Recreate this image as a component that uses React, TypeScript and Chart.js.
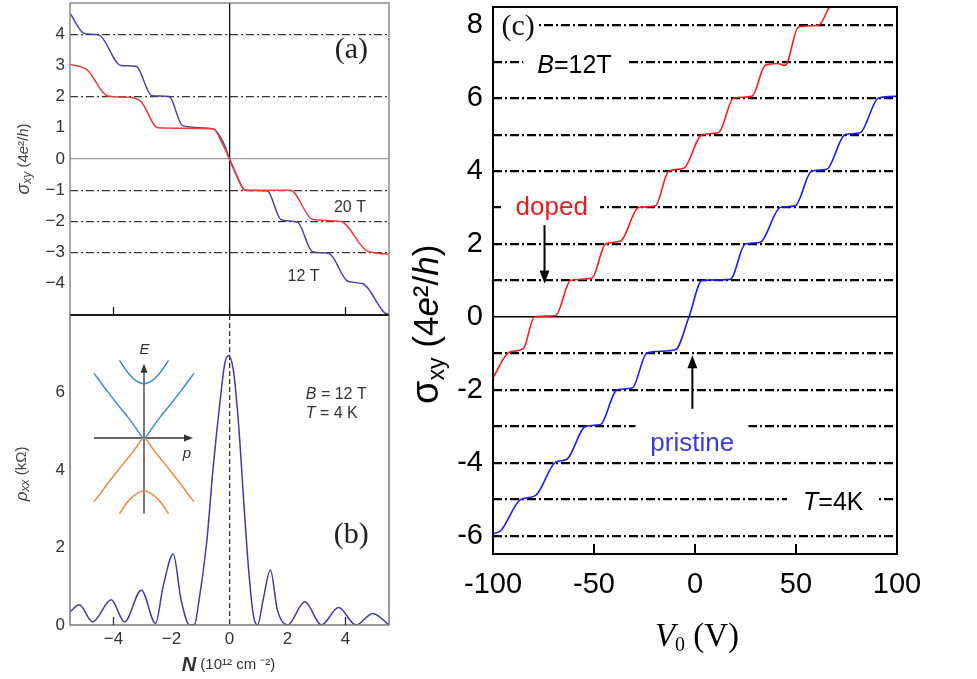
import React, { useEffect, useRef } from "react";
import { Chart, registerables } from "chart.js";

Chart.register(...registerables);

const SANS = "'Liberation Sans', Arial, Helvetica, sans-serif";
const SERIF = "'Liberation Serif', 'Times New Roman', serif";
Chart.defaults.font.family = SANS;

// ---------------- Panel (a): sigma_xy vs N ----------------
const nA12 = [-5.5, -5.0, -4.5, -3.75, -3.22, -2.68, -2.08, -1.62, -0.56, -0.2, 0, 0.25, 0.55, 1.3, 1.78, 2.34, 2.86, 3.43, 4.08, 4.6, 5.35, 5.5];
const sigmaA12 = [4.67, 4.02, 3.97, 3.0, 2.97, 2.03, 2.0, 1.07, 0.96, 0.5, 0.0, -0.55, -1.0, -1.02, -1.95, -2.02, -2.97, -3.03, -3.92, -4.0, -4.93, -4.98];
const nA20 = [-5.5, -4.9, -4.2, -3.5, -3.05, -2.47, -0.56, -0.25, 0, 0.25, 0.52, 2.1, 2.86, 3.84, 4.75, 5.5];
const sigmaA20 = [3.04, 2.85, 2.02, 1.98, 1.84, 1.0, 0.97, 0.5, 0.0, -0.52, -1.0, -1.0, -1.93, -2.0, -2.95, -3.05];
const aYTicks = [-4, -3, -2, -1, 0, 1, 2, 3, 4];
const aDashLevels = [4, 2, -1, -2, -3];
const aSolidLevels = [0];
const aVerticalLines = [0];
const aInnerXTicks = [-4, 0, 4];

// ---------------- Panel (b): rho_xx vs N ----------------
const nB = [-5.5, -5.18, -4.72, -4.08, -3.62, -3.04, -2.55, -2.29, -1.94, -1.67, -1.37, -1.2, -1.1, -0.79, -0.56, -0.32, -0.16, -0.03, 0.13, 0.31, 0.48, 0.66, 0.83, 0.97, 1.16, 1.41, 1.65, 2.0, 2.6, 3.17, 3.76, 4.36, 4.94, 5.5];
const rhoB = [0.34, 0.52, 0.08, 0.65, 0.08, 0.9, 0.04, 0.99, 1.83, 0.65, 0.0, 0.02, 0.39, 2.11, 4.09, 5.81, 6.76, 6.95, 6.59, 5.21, 3.32, 1.42, 0.22, 0.0, 0.65, 1.42, 0.39, 0.0, 0.6, 0.0, 0.45, 0.0, 0.3, 0.0];
const bYTicks = [0, 2, 4, 6];
const bXTicks = [-4, -2, 0, 2, 4];
const bDashedVertical = [0];
const bInnerXTicks = [-4, 4];

// ---------------- Inset: band diagram ----------------
const insetOuterP = [-1, -0.75, -0.5, -0.3, -0.15, 0, 0.15, 0.3, 0.5, 0.75, 1];
const insetCondOuterE = [1.0, 0.74, 0.49, 0.3, 0.14, 0.0, 0.14, 0.3, 0.49, 0.74, 1.0];
const insetValOuterE = [-0.99, -0.73, -0.48, -0.29, -0.14, 0.0, -0.14, -0.29, -0.48, -0.73, -0.99];
const insetInnerP = [-0.49, -0.35, -0.2, 0, 0.2, 0.35, 0.49];
const insetCondInnerE = [1.2, 1.04, 0.91, 0.84, 0.91, 1.04, 1.2];
const insetValInnerE = [-1.17, -1.01, -0.89, -0.82, -0.89, -1.01, -1.17];

// ---------------- Panel (c): sigma_xy vs V0 ----------------
const vDoped = [-100, -92, -85, -79.5, -69, -61.6, -51, -44.3, -36.9, -27.9, -19.6, -13, -5.6, 3.5, 11.7, 19.1, 28.2, 34.8, 41, 44, 45.5, 51.2, 61.1, 67];
const sigmaDoped = [-1.67, -0.97, -0.87, 0.0, 0.04, 1.0, 1.07, 2.0, 2.08, 3.0, 3.05, 4.0, 4.08, 5.0, 5.06, 6.0, 6.05, 6.9, 6.95, 6.9, 6.95, 7.95, 8.0, 8.56];
const vPristine = [-100, -96, -86.4, -79, -69, -63.4, -54.2, -46.8, -38.6, -31.1, -23.7, -9.7, -3, 3.5, 17.4, 24.9, 32.3, 42.2, 49.6, 57.8, 65.2, 74.3, 81.7, 90.8, 100];
const sigmaPristine = [-5.95, -5.85, -5.01, -4.9, -3.98, -3.9, -3.0, -2.95, -2.0, -1.95, -0.98, -0.9, 0.0, 1.0, 1.03, 2.0, 2.05, 3.0, 3.05, 4.0, 4.05, 5.0, 5.05, 6.0, 6.05];
const cLevels = [-6, -5, -4, -3, -2, -1, 0, 1, 2, 3, 4, 5, 6, 7, 8];
const cYLabels = [-6, -4, -2, 0, 2, 4, 6, 8];
const cXTicks = [-100, -50, 0, 50, 100];
const cInnerXTicks = [-50, 0, 50];
const cGapLevels = [8, 7, 3, -3, -5];
const cGapFrom = [-100, -85, -96, -29.5, 45.5];
const cGapTo = [-77.3, -33.6, -47, 26.5, 90];

type Run = { t: string; size: number; family?: string; style?: string; weight?: string; dy?: number };

function fontOf(r: Run) {
  return `${r.style || "normal"} ${r.weight || "normal"} ${r.size}px ${r.family || SANS}`;
}

function drawRuns(ctx: any, runs: Run[], x: number, y: number, align: string, color: string, rotate = false) {
  ctx.save();
  ctx.translate(x, y);
  if (rotate) ctx.rotate(-Math.PI / 2);
  ctx.textBaseline = "middle";
  ctx.textAlign = "left";
  ctx.fillStyle = color;
  const widths = runs.map((r) => {
    ctx.font = fontOf(r);
    return ctx.measureText(r.t).width;
  });
  const total = widths.reduce((a, b) => a + b, 0);
  let cx = align === "center" ? -total / 2 : 0;
  runs.forEach((r, i) => {
    ctx.font = fontOf(r);
    ctx.fillText(r.t, cx, r.dy || 0);
    cx += widths[i];
  });
  ctx.restore();
}

function arrow(ctx: any, x1: number, y1: number, x2: number, y2: number, head: number, width: number, color: string) {
  const ang = Math.atan2(y2 - y1, x2 - x1);
  const c = Math.cos(ang), s = Math.sin(ang);
  ctx.save();
  ctx.strokeStyle = color;
  ctx.fillStyle = color;
  ctx.lineWidth = width;
  ctx.beginPath();
  ctx.moveTo(x1, y1);
  ctx.lineTo(x2 - c * head * 0.7, y2 - s * head * 0.7);
  ctx.stroke();
  ctx.beginPath();
  ctx.moveTo(x2, y2);
  ctx.lineTo(x2 - head * c + head * 0.38 * s, y2 - head * s - head * 0.38 * c);
  ctx.lineTo(x2 - head * c - head * 0.38 * s, y2 - head * s + head * 0.38 * c);
  ctx.closePath();
  ctx.fill();
  ctx.restore();
}

const fmtMinus = (v: number) => (v < 0 ? "\u2212" + Math.abs(v) : String(v));

function series(xs: number[], ys: number[], color: string, width: number) {
  return {
    data: xs.map((x, i) => ({ x, y: ys[i] })),
    borderColor: color,
    borderWidth: width,
    pointRadius: 0,
    fill: false,
    cubicInterpolationMode: "monotone",
  };
}

function fixSize(s: any, w: number | null, h: number | null) {
  if (w !== null) s.width = w;
  if (h !== null) s.height = h;
  s.paddingTop = 0;
  s.paddingBottom = 0;
  s.paddingLeft = 0;
  s.paddingRight = 0;
}

const common: any = {
  animation: false,
  responsive: false,
  devicePixelRatio: 1,
  events: [],
  plugins: { legend: { display: false }, tooltip: { enabled: false } },
};

const TRANSPARENT = "rgba(0,0,0,0)";

// ---------- Panel (a) ----------
const panelAPlugin = {
  id: "panelA",
  afterDraw(chart: any) {
    const { ctx, chartArea: ca, scales } = chart;
    const x = scales.x, y = scales.y;
    ctx.save();
    ctx.strokeStyle = "#8a8a8a";
    ctx.lineWidth = 1.5;
    ctx.beginPath();
    ctx.moveTo(ca.left, ca.bottom);
    ctx.lineTo(ca.left, ca.top);
    ctx.lineTo(ca.right, ca.top);
    ctx.lineTo(ca.right, ca.bottom);
    ctx.stroke();
    ctx.strokeStyle = "#1a1a1a";
    ctx.lineWidth = 2;
    ctx.beginPath();
    ctx.moveTo(ca.left, ca.bottom);
    ctx.lineTo(ca.right, ca.bottom);
    ctx.stroke();
    ctx.lineWidth = 1.3;
    aInnerXTicks.forEach((v) => {
      const px = x.getPixelForValue(v);
      ctx.beginPath();
      ctx.moveTo(px, ca.bottom);
      ctx.lineTo(px, ca.bottom - 8);
      ctx.stroke();
    });
    ctx.restore();
    drawRuns(ctx, [{ t: "(a)", size: 30, family: SERIF }], x.getPixelForValue(4.2), y.getPixelForValue(3.5), "center", "#222");
    drawRuns(ctx, [{ t: "20 T", size: 16 }], x.getPixelForValue(3.6), y.getPixelForValue(-1.56), "left", "#333");
    drawRuns(ctx, [{ t: "12 T", size: 16 }], x.getPixelForValue(2.0), y.getPixelForValue(-3.76), "left", "#333");
    drawRuns(
      ctx,
      [
        { t: "\u03c3", size: 18, style: "italic" },
        { t: "xy", size: 12, style: "italic", dy: 4 },
        { t: " (4", size: 15 },
        { t: "e", size: 15, style: "italic" },
        { t: "\u00b2", size: 15 },
        { t: "/", size: 15 },
        { t: "h", size: 15, style: "italic" },
        { t: ")", size: 15 },
      ],
      ca.left - 46,
      y.getPixelForValue(0),
      "center",
      "#444",
      true
    );
  },
};

function configA(): any {
  return {
    type: "line",
    data: {
      datasets: [series(nA20, sigmaA20, "#ee3b3b", 1.5), series(nA12, sigmaA12, "#4646a6", 1.5)],
    },
    options: {
      ...common,
      layout: { padding: { top: 3, right: 11, bottom: 3, left: 0 } },
      scales: {
        x: {
          type: "linear",
          min: -5.5,
          max: 5.5,
          afterBuildTicks: (s: any) => {
            s.ticks = aVerticalLines.map((v) => ({ value: v }));
          },
          ticks: { display: false },
          grid: { color: "#111", lineWidth: 1.3, drawTicks: false },
          border: { display: false },
          afterFit: (s: any) => fixSize(s, null, 0),
        },
        y: {
          type: "linear",
          min: -5,
          max: 5,
          afterBuildTicks: (s: any) => {
            s.ticks = aYTicks.map((v) => ({ value: v }));
          },
          ticks: { font: { family: SANS, size: 17 }, color: "#333", padding: 5, callback: (v: number) => fmtMinus(v) },
          grid: {
            drawTicks: false,
            lineWidth: 1.2,
            color: (c: any) =>
              c.tick && aDashLevels.includes(c.tick.value)
                ? "#333"
                : c.tick && aSolidLevels.includes(c.tick.value)
                ? "#9a9a9a"
                : TRANSPARENT,
          },
          border: {
            display: false,
            dash: (c: any) => (c.tick && aDashLevels.includes(c.tick.value) ? [8, 3, 2, 3] : []),
          },
          afterFit: (s: any) => fixSize(s, 70, null),
        },
      },
    },
    plugins: [panelAPlugin],
  };
}

// ---------- Panel (b) ----------
const panelBPlugin = {
  id: "panelB",
  afterDraw(chart: any) {
    const { ctx, chartArea: ca, scales } = chart;
    const x = scales.x, y = scales.y;
    ctx.save();
    ctx.strokeStyle = "#7a7a7a";
    ctx.lineWidth = 1.5;
    ctx.beginPath();
    ctx.moveTo(ca.left, ca.top);
    ctx.lineTo(ca.left, ca.bottom);
    ctx.lineTo(ca.right, ca.bottom);
    ctx.lineTo(ca.right, ca.top);
    ctx.stroke();
    ctx.strokeStyle = "#333";
    ctx.lineWidth = 1.3;
    bInnerXTicks.forEach((v) => {
      const px = x.getPixelForValue(v);
      ctx.beginPath();
      ctx.moveTo(px, ca.bottom);
      ctx.lineTo(px, ca.bottom - 8);
      ctx.stroke();
    });
    ctx.restore();
    drawRuns(ctx, [{ t: "(b)", size: 30, family: SERIF }], x.getPixelForValue(4.2), y.getPixelForValue(2.33), "center", "#222");
    drawRuns(ctx, [{ t: "B", size: 16, style: "italic" }, { t: " = 12 T", size: 16 }], x.getPixelForValue(2.63), y.getPixelForValue(5.94), "left", "#333");
    drawRuns(ctx, [{ t: "T", size: 16, style: "italic" }, { t: " = 4 K", size: 16 }], x.getPixelForValue(2.63), y.getPixelForValue(5.45), "left", "#333");
    drawRuns(
      ctx,
      [
        { t: "N", size: 20, style: "italic", weight: "bold" },
        { t: " (10\u00b9\u00b2 cm \u207b\u00b2)", size: 15 },
      ],
      x.getPixelForValue(0) - 1,
      ca.bottom + 40,
      "center",
      "#333"
    );
    drawRuns(
      ctx,
      [
        { t: "\u03c1", size: 17, style: "italic" },
        { t: "xx", size: 12, style: "italic", dy: 4 },
        { t: " (k\u03a9)", size: 15 },
      ],
      ca.left - 48,
      y.getPixelForValue(3.9),
      "center",
      "#444",
      true
    );
  },
};

function configB(): any {
  return {
    type: "line",
    data: { datasets: [series(nB, rhoB, "#3d3da8", 1.5)] },
    options: {
      ...common,
      layout: { padding: { top: 0, right: 11, bottom: 0, left: 0 } },
      scales: {
        x: {
          type: "linear",
          min: -5.5,
          max: 5.5,
          afterBuildTicks: (s: any) => {
            s.ticks = bXTicks.map((v) => ({ value: v }));
          },
          ticks: { autoSkip: false, maxRotation: 0, font: { family: SANS, size: 17 }, color: "#333", padding: 4, callback: (v: number) => fmtMinus(v) },
          grid: {
            drawTicks: false,
            lineWidth: 1.3,
            color: (c: any) => (c.tick && bDashedVertical.includes(c.tick.value) ? "#333" : TRANSPARENT),
          },
          border: { display: false, dash: [5, 3] },
          afterFit: (s: any) => fixSize(s, null, 54),
        },
        y: {
          type: "linear",
          min: 0,
          max: 8,
          afterBuildTicks: (s: any) => {
            s.ticks = bYTicks.map((v) => ({ value: v }));
          },
          ticks: { font: { family: SANS, size: 17 }, color: "#333", padding: 5 },
          grid: { drawTicks: false, color: TRANSPARENT },
          border: { display: false },
          afterFit: (s: any) => fixSize(s, 70, null),
        },
      },
    },
    plugins: [panelBPlugin],
  };
}

// ---------- Inset ----------
const insetPlugin = {
  id: "inset",
  beforeDatasetsDraw(chart: any) {
    const { ctx, scales } = chart;
    const x = scales.x, y = scales.y;
    arrow(ctx, x.getPixelForValue(-1.0), y.getPixelForValue(0), x.getPixelForValue(0.98), y.getPixelForValue(0), 9, 1.3, "#333");
    arrow(ctx, x.getPixelForValue(0), y.getPixelForValue(-1.17), x.getPixelForValue(0), y.getPixelForValue(1.15), 9, 1.3, "#333");
  },
  afterDraw(chart: any) {
    const { ctx, scales } = chart;
    const x = scales.x, y = scales.y;
    drawRuns(ctx, [{ t: "E", size: 15, style: "italic" }], x.getPixelForValue(0.01), y.getPixelForValue(1.36), "center", "#333");
    drawRuns(ctx, [{ t: "p", size: 15, style: "italic" }], x.getPixelForValue(0.86), y.getPixelForValue(-0.24), "center", "#333");
  },
};

function configInset(): any {
  return {
    type: "line",
    data: {
      datasets: [
        series(insetOuterP, insetCondOuterE, "#3a8fd2", 1.5),
        series(insetInnerP, insetCondInnerE, "#3a8fd2", 1.5),
        series(insetOuterP, insetValOuterE, "#f0893c", 1.5),
        series(insetInnerP, insetValInnerE, "#f0893c", 1.5),
      ],
    },
    options: {
      ...common,
      layout: { padding: 0 },
      scales: {
        x: { type: "linear", min: -1.1, max: 1.1, display: false },
        y: { type: "linear", min: -1.5, max: 1.5, display: false },
      },
    },
    plugins: [insetPlugin],
  };
}

// ---------- Panel (c) ----------
const panelCPlugin = {
  id: "panelC",
  afterDatasetsDraw(chart: any) {
    const { ctx, chartArea: ca, scales } = chart;
    const x = scales.x, y = scales.y;
    ctx.save();
    ctx.fillStyle = "#fff";
    cGapLevels.forEach((lv, i) => {
      const x1 = x.getPixelForValue(cGapFrom[i]);
      const x2 = x.getPixelForValue(cGapTo[i]);
      const py = y.getPixelForValue(lv);
      ctx.fillRect(x1, py - 3, x2 - x1, 6);
    });
    ctx.strokeStyle = "#000";
    ctx.lineWidth = 2;
    ctx.strokeRect(ca.left, ca.top, ca.right - ca.left, ca.bottom - ca.top);
    cInnerXTicks.forEach((v) => {
      const px = x.getPixelForValue(v);
      ctx.beginPath();
      ctx.moveTo(px, ca.bottom);
      ctx.lineTo(px, ca.bottom - 10);
      ctx.stroke();
    });
    ctx.restore();

    arrow(ctx, x.getPixelForValue(-74.5), y.getPixelForValue(2.52), x.getPixelForValue(-74.5), y.getPixelForValue(0.92), 13, 2, "#000");
    arrow(ctx, x.getPixelForValue(-1.3), y.getPixelForValue(-2.52), x.getPixelForValue(-1.3), y.getPixelForValue(-1.05), 13, 2, "#000");

    drawRuns(ctx, [{ t: "(c)", size: 30, family: SERIF }], x.getPixelForValue(-87.6), y.getPixelForValue(7.95), "center", "#111");
    drawRuns(ctx, [{ t: "B", size: 25, style: "italic" }, { t: "=12T", size: 25 }], x.getPixelForValue(-78.1), y.getPixelForValue(6.89), "left", "#000");
    drawRuns(ctx, [{ t: "doped", size: 26 }], x.getPixelForValue(-88.8), y.getPixelForValue(3.0), "left", "#e02020");
    drawRuns(ctx, [{ t: "pristine", size: 26 }], x.getPixelForValue(-22.1), y.getPixelForValue(-3.48), "left", "#3a3ae0");
    drawRuns(ctx, [{ t: "T", size: 25, style: "italic" }, { t: "=4K", size: 25 }], x.getPixelForValue(53.5), y.getPixelForValue(-5.1), "left", "#000");

    drawRuns(
      ctx,
      [
        { t: "\u03c3", size: 38 },
        { t: "xy", size: 23, dy: 10 },
        { t: " (4", size: 35 },
        { t: "e", size: 35, style: "italic" },
        { t: "\u00b2", size: 35 },
        { t: "/", size: 35 },
        { t: "h", size: 35, style: "italic" },
        { t: ")", size: 35 },
      ],
      ca.left - 65,
      y.getPixelForValue(-0.2),
      "center",
      "#000",
      true
    );
    drawRuns(
      ctx,
      [
        { t: "V", size: 33, family: SERIF, style: "italic" },
        { t: "0", size: 20, family: SERIF, dy: 9 },
        { t: " (V)", size: 33, family: SERIF },
      ],
      x.getPixelForValue(0) + 2,
      ca.bottom + 83,
      "center",
      "#000"
    );
  },
};

function configC(): any {
  return {
    type: "line",
    data: {
      datasets: [series(vDoped, sigmaDoped, "#ff1a1a", 1.6), series(vPristine, sigmaPristine, "#1a1aff", 1.6)],
    },
    options: {
      ...common,
      layout: { padding: { top: 7, right: 80, bottom: 0, left: 0 } },
      scales: {
        x: {
          type: "linear",
          min: -100,
          max: 100,
          afterBuildTicks: (s: any) => {
            s.ticks = cXTicks.map((v) => ({ value: v }));
          },
          ticks: { autoSkip: false, maxRotation: 0, font: { family: SANS, size: 29 }, color: "#000", padding: 6, callback: (v: number) => String(v) },
          grid: { display: false },
          border: { display: false },
          afterFit: (s: any) => fixSize(s, null, 125),
        },
        y: {
          type: "linear",
          min: -6.5,
          max: 8.5,
          afterBuildTicks: (s: any) => {
            s.ticks = cLevels.map((v) => ({ value: v }));
          },
          ticks: {
            autoSkip: false,
            font: { family: SANS, size: 29 },
            color: "#000",
            padding: 10,
            callback: (v: number) => (cYLabels.includes(v) ? String(v) : ""),
          },
          grid: {
            drawTicks: false,
            color: "#000",
            lineWidth: (c: any) => (c.tick && c.tick.value === 0 ? 1.6 : 2.2),
          },
          border: {
            display: false,
            dash: (c: any) => (c.tick && c.tick.value !== 0 ? [9, 3, 2, 3] : []),
          },
          afterFit: (s: any) => fixSize(s, 93, null),
        },
      },
    },
    plugins: [panelCPlugin],
  };
}

function ChartCanvas(props: { left: number; top: number; width: number; height: number; make: () => any }) {
  const ref = useRef<HTMLCanvasElement>(null);
  useEffect(() => {
    const chart = new Chart(ref.current as HTMLCanvasElement, props.make());
    return () => chart.destroy();
  }, []);
  return (
    <canvas
      ref={ref}
      width={props.width}
      height={props.height}
      style={{ position: "absolute", left: props.left, top: props.top, width: props.width, height: props.height }}
    />
  );
}

export default function App() {
  return (
    <div style={{ position: "fixed", left: 0, top: 0, width: 977, height: 679, background: "#fff", overflow: "hidden" }}>
      <ChartCanvas left={0} top={0} width={400} height={318} make={configA} />
      <ChartCanvas left={0} top={315} width={400} height={364} make={configB} />
      <ChartCanvas left={89} top={341} width={110} height={194} make={configInset} />
      <ChartCanvas left={400} top={0} width={577} height={679} make={configC} />
    </div>
  );
}
